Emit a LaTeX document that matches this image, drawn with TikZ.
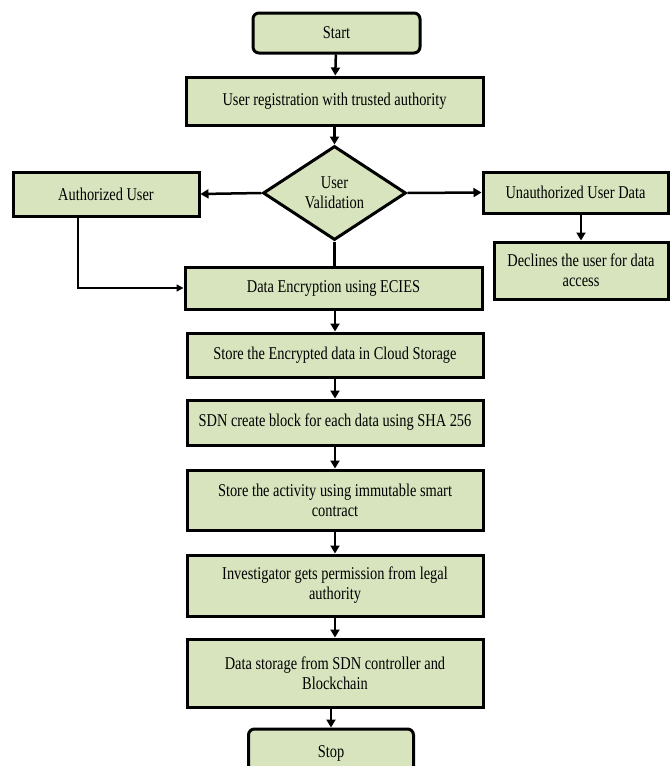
\documentclass[tikz,border=0pt]{standalone}
\usepackage{fontspec}
\setmainfont[FakeStretch=0.8]{Liberation Serif}
\usetikzlibrary{shapes.geometric,arrows.meta}
\definecolor{boxfill}{HTML}{D7E4BD}
\tikzset{
  box/.style={draw=black, line width=3pt, fill=boxfill, inner sep=0pt, align=center,
    font=\fontsize{18}{20}\selectfont},
  rbox/.style={box, rounded corners=6pt},
  dec/.style={box, diamond, aspect=1.52, inner sep=0pt},
  arr/.style={line width=2.5pt, -{Triangle[length=8pt,width=9pt]}},
  plain/.style={line width=2.5pt},
  thinarr/.style={line width=1.5pt, -{Triangle[length=7pt,width=7pt]}}
}
\begin{document}
\begin{tikzpicture}[x=1pt,y=-1pt]
\useasboundingbox (0,0) rectangle (670,766);
\fill[white] (0,0) rectangle (670,766);
\node[rbox, minimum width=167pt, minimum height=40pt] (start) at (336.5,33) {Start};
\node[box, minimum width=297pt, minimum height=48pt] (reg) at (334.5,101) {User registration with trusted authority};
\node[box, diamond, minimum width=143pt, minimum height=94pt, inner sep=0pt] (dia) at (334.5,193) {User\\Validation};
\node[box, minimum width=186pt, minimum height=44pt] (auth) at (106,194) {Authorized User};
\node[box, minimum width=185pt, minimum height=41pt] (unauth) at (575.5,192.5) {Unauthorized User Data};
\node[box, minimum width=174pt, minimum height=57pt] (decl) at (581,270.5) {Declines the user for data\\access};
\node[box, minimum width=297pt, minimum height=42pt] (enc) at (333.5,288) {Data Encryption using ECIES};
\node[box, minimum width=296pt, minimum height=44pt] (store) at (335,355) {Store the Encrypted data in Cloud Storage};
\node[box, minimum width=296pt, minimum height=45pt] (sdn) at (335,422.5) {SDN create block for each data using SHA 256};
\node[box, minimum width=296pt, minimum height=60pt] (act) at (335,500) {Store the activity using immutable smart\\contract};
\node[box, minimum width=296pt, minimum height=61pt] (inv) at (335,585.5) {Investigator gets permission from legal\\authority};
\node[box, minimum width=296pt, minimum height=68pt] (ds) at (335,673) {Data storage from SDN controller and\\Blockchain};
\node[rbox, minimum width=165pt, minimum height=48pt] (stop) at (331,753) {Stop};
\draw[arr] (start) -- (reg);
\draw[arr] (reg) -- (dia);
\draw[arr] (dia.west) -- (auth.east);
\draw[arr] (dia.east) -- (unauth.west);
\draw[arr] (decl.north |- unauth.south) -- (decl.north);
\draw[plain] (dia.south) -- (dia.south |- enc.north);
\draw[thinarr] ([xshift=-28pt]auth.south) |- (enc.west);
\draw[arr] (enc.south -| store.north) -- (store.north);
\draw[arr] (store) -- (sdn);
\draw[arr] (sdn) -- (act);
\draw[arr] (act) -- (inv);
\draw[arr] (inv) -- (ds);
\draw[arr] (ds.south -| stop.north) -- (stop.north);
\end{tikzpicture}
\end{document}
